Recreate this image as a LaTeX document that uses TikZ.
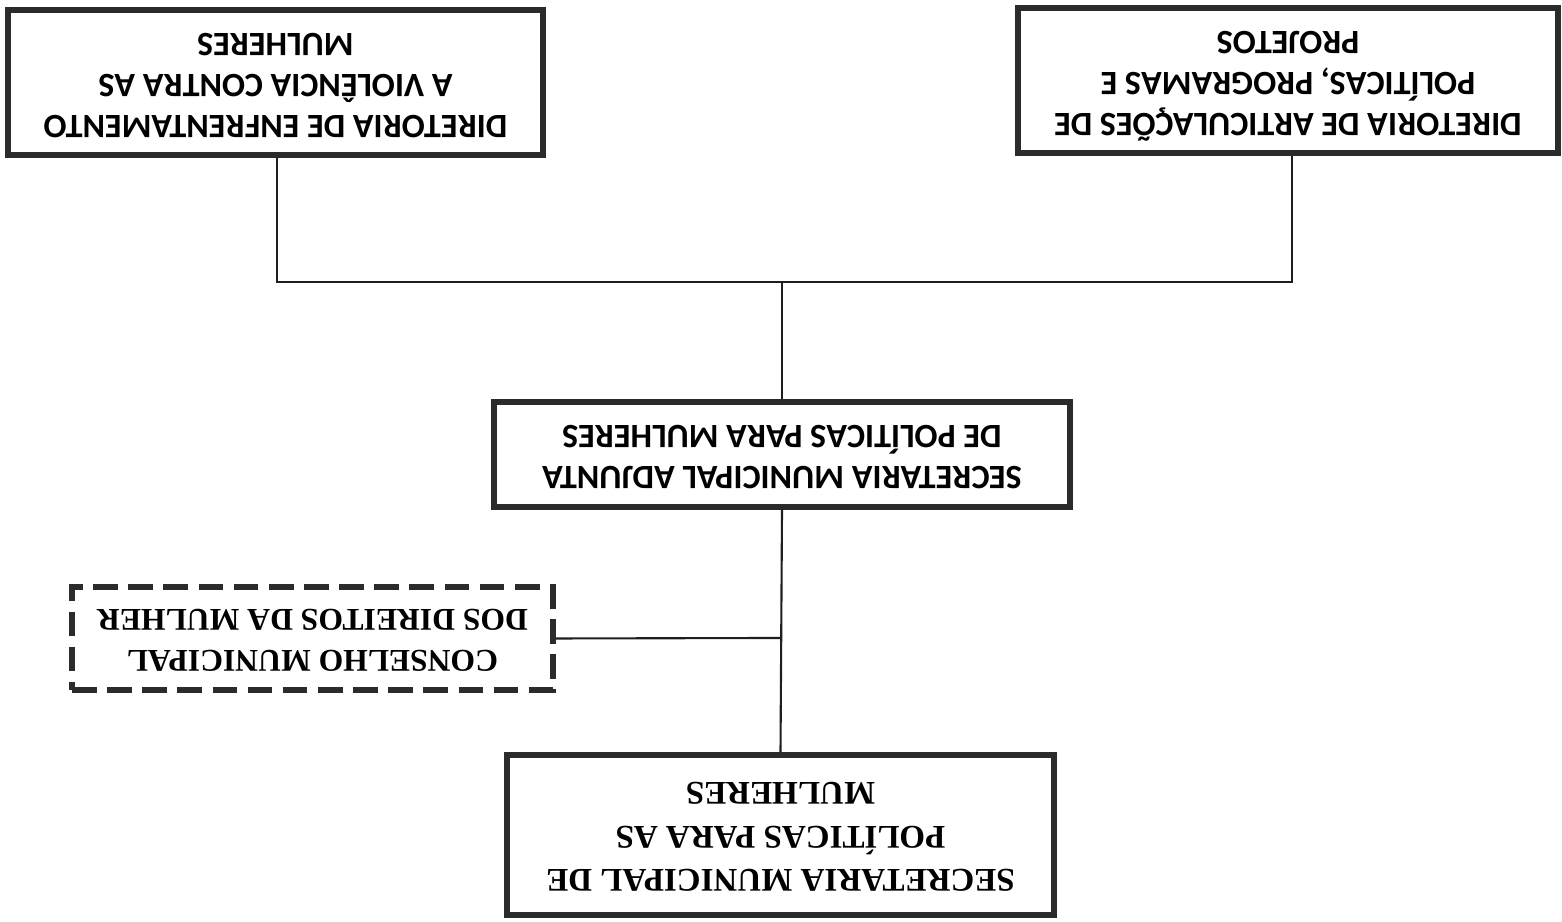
\documentclass[tikz,border=0pt]{standalone}
\usepackage{fontspec}
\setmainfont{Liberation Serif}
\setsansfont{Carlito}
\usepackage{graphicx}
\usepackage{tikz}
\usetikzlibrary{positioning, calc}

\definecolor{boxgray}{HTML}{2B2B2B}
\definecolor{linegray}{HTML}{1E1E1E}

% text turned upside down, as in the scanned page
\newcommand{\flipped}[1]{\rotatebox[origin=c]{180}{\begin{tabular}{@{}c@{}}#1\end{tabular}}}

\begin{document}
\begin{tikzpicture}[
    orgbox/.style={draw=boxgray, line width=1.5pt, fill=white, align=center,
      inner sep=0pt, font=\sffamily\bfseries\fontsize{9.7}{11.6}\selectfont},
    serifbox/.style={orgbox, font=\rmfamily\bfseries\fontsize{9.4}{12.4}\selectfont},
    councilbox/.style={serifbox, dash pattern=on 7pt off 3pt, line width=1.5pt,
      font=\rmfamily\bfseries\fontsize{9.0}{11.8}\selectfont},
    link/.style={draw=linegray, line width=0.6pt}
  ]
      \useasboundingbox (0,0) rectangle (15.62,9.22);

      % Top boxes
      \node[orgbox, minimum width=5.35cm, minimum height=1.45cm] (dirviol) at (2.755, 8.395)
        {\flipped{DIRETORIA DE ENFRENTAMENTO\\A VIOLÊNCIA CONTRA AS\\MULHERES}};
      \node[orgbox, minimum width=5.40cm, minimum height=1.45cm] (dirartic) at (12.88, 8.415)
        {\flipped{DIRETORIA DE ARTICULAÇÕES DE\\POLÍTICAS, PROGRAMAS E\\PROJETOS}};

      % Middle box
      \node[orgbox, minimum width=5.76cm, minimum height=1.05cm] (adjunta) at (7.82, 4.675)
        {\flipped{SECRETARIA MUNICIPAL ADJUNTA\\DE POLÍTICAS PARA MULHERES}};

      % Council (dashed) and secretariat
      \node[councilbox, minimum width=4.81cm, minimum height=1.03cm] (conselho) at (3.125, 2.835)
        {\flipped{CONSELHO MUNICIPAL\\DOS DIREITOS DA MULHER}};
      \node[serifbox, minimum width=5.47cm, minimum height=1.60cm] (secretaria) at (7.805, 0.87)
        {\flipped{SECRETARIA MUNICIPAL DE\\POLÍTICAS PARA AS\\MULHERES}};

      % Junctions
      \coordinate (jtop) at (7.82, 6.40);
      \coordinate (jmid) at (7.80, 2.84);

      % Connectors
      \draw[link] ($(dirviol.south)+(0.015,0)$) |- (jtop) -| ($(dirartic.south)+(0.04,0)$);
      \draw[link] (jtop) -- (adjunta.north);
      \draw[link] (adjunta.south) -- (secretaria.north);
      \draw[link] (conselho.east) -- (jmid);
\end{tikzpicture}
\end{document}
